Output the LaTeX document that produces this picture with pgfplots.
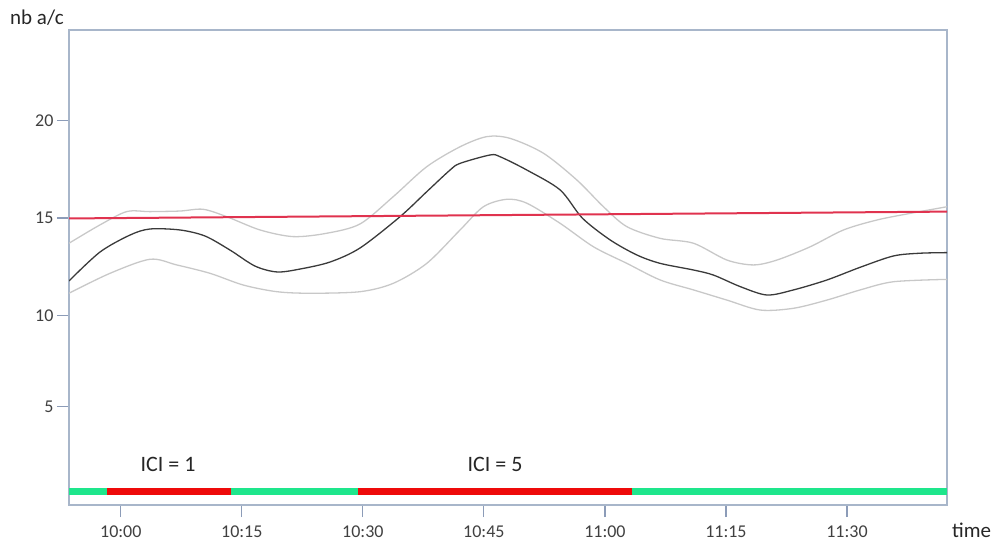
\documentclass[border=0pt]{standalone}
\usepackage{fontspec}
\setmainfont{Carlito}
\usepackage{pgfplots}
\pgfplotsset{compat=1.18}
\definecolor{axisc}{HTML}{A8B6CA}
\definecolor{tickc}{HTML}{8C9CB8}
\definecolor{txt}{HTML}{404040}
\definecolor{redl}{HTML}{E0334F}
\definecolor{grayl}{HTML}{C8C8C8}
\definecolor{darkl}{HTML}{3A3A3A}
\definecolor{barg}{HTML}{1EE68C}
\definecolor{barr}{HTML}{EE0A0A}
\begin{document}
\begin{tikzpicture}[x=1pt,y=1pt]
\useasboundingbox (0,0) rectangle (995,543);
\begin{axis}[
  at={(69pt,38pt)}, anchor=south west,
  scale only axis, width=878pt, height=475pt,
  xmin=-6.42, xmax=102.4, ymin=0.307, ymax=24.63,
  axis line style={axisc, line width=1.2pt},
  xtick={0,15,30,45,60,75,90},
  xticklabels={10:00,10:15,10:30,10:45,11:00,11:15,11:30},
  ytick={5.34,10,15,20}, yticklabels={5,10,15,20},
  tick align=outside, tick pos=left,
  major tick length=12pt,
  tick style={tickc, line width=1.2pt},
  ticklabel style={font=\fontsize{18}{20}\selectfont, text=txt},
  xticklabel style={inner sep=0.5pt, yshift=-8pt},
  /pgf/number format/assume math mode=true,
]
% upper band
\addplot[grayl, line width=1.3pt, smooth, tension=0.5] coordinates {
(-6.42,13.71) (-2.58,14.65) (0.73,15.33) (3.62,15.33) (7.34,15.36) (10.19,15.45)
(13.13,15.07) (17.26,14.39) (21.36,14.05) (25.50,14.22) (29.66,14.70) (33.75,16.09)
(37.92,17.63) (42.05,18.65) (45.36,19.17) (48.25,19.08) (52.38,18.32) (56.52,16.95)
(59.82,15.58) (62.72,14.56) (66.85,13.96) (70.98,13.71) (75.12,12.85) (78.42,12.60)
(81.32,12.85) (85.45,13.53) (89.57,14.39) (93.71,14.90) (97.84,15.24) (102.4,15.58)};
% lower band
\addplot[grayl, line width=1.3pt, smooth, tension=0.5] coordinates {
(-6.42,11.15) (-1.34,12.17) (3.62,12.89) (6.93,12.60) (11.06,12.17) (15.19,11.57)
(19.33,11.23) (23.46,11.15) (29.66,11.23) (33.78,11.66) (37.92,12.68) (42.05,14.39)
(44.94,15.58) (47.84,15.96) (50.32,15.76) (54.45,14.73) (58.58,13.53) (62.72,12.68)
(66.85,11.83) (70.98,11.32) (75.12,10.80) (79.25,10.29) (83.37,10.38) (87.52,10.80)
(91.64,11.32) (95.77,11.74) (102.4,11.86)};
% mean
\addplot[darkl, line width=1.3pt, smooth, tension=0.5] coordinates {
(-6.42,11.78) (-2.58,13.26) (1.14,14.13) (3.62,14.44) (7.34,14.39) (10.44,14.08)
(13.54,13.36) (16.64,12.54) (19.37,12.24) (22.22,12.39) (25.94,12.75) (29.66,13.47)
(34.61,15.07) (37.92,16.35) (40.81,17.46) (42.05,17.80) (45.77,18.23) (47.01,18.14)
(50.32,17.46) (54.45,16.44) (57.2,15.00) (60.65,13.88) (63.96,13.11) (66.85,12.68)
(70.98,12.34) (73.46,12.08) (76.77,11.49) (80.08,11.06) (83.37,11.32) (87.52,11.83)
(91.64,12.48) (95.77,13.06) (99.08,13.20) (102.4,13.23)};
% threshold
\addplot[redl, line width=2pt] coordinates {(-6.42,14.98) (102.4,15.33)};
% ICI bar
\addplot[barg, line width=7pt, line cap=butt] coordinates {(-6.42,1) (-1.67,1)};
\addplot[barr, line width=7pt, line cap=butt] coordinates {(-1.67,1) (13.6,1)};
\addplot[barg, line width=7pt, line cap=butt] coordinates {(13.6,1) (29.4,1)};
\addplot[barr, line width=7pt, line cap=butt] coordinates {(29.4,1) (63.4,1)};
\addplot[barg, line width=7pt, line cap=butt] coordinates {(63.4,1) (102.4,1)};
\node[font=\fontsize{22}{24}\selectfont, text=black!85] at (axis cs:5.85,2.36) {ICI = 1};
\node[font=\fontsize{22}{24}\selectfont, text=black!85] at (axis cs:46.39,2.36) {ICI = 5};
\end{axis}
\node[anchor=west, font=\fontsize{21}{24}\selectfont, text=black!85, inner sep=0pt] at (10,525) {nb a/c};
\node[anchor=west, font=\fontsize{21}{24}\selectfont, text=black!85, inner sep=0pt] at (952,13) {time};
\end{tikzpicture}
\end{document}
